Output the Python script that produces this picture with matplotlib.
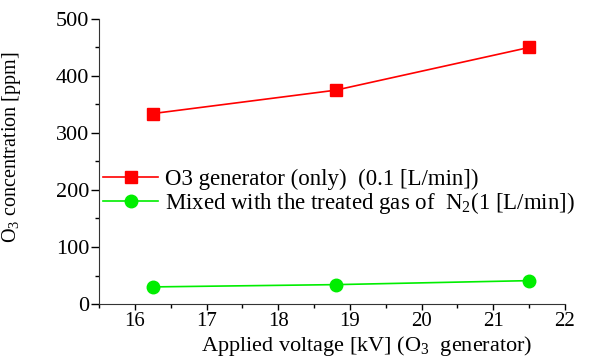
import matplotlib
matplotlib.use('Agg')
import matplotlib.pyplot as plt
from matplotlib.ticker import MultipleLocator

plt.rcParams['font.family'] = 'Liberation Serif'
plt.rcParams['mathtext.fontset'] = 'custom'
plt.rcParams['mathtext.rm'] = 'Liberation Serif'
plt.rcParams['mathtext.it'] = 'Liberation Serif:italic'

# 数据
voltage = [16.25, 18.8, 21.5]
o3_only = [334, 375, 450]
o3_mixed = [30, 34, 41]

fig = plt.figure(figsize=(6.05, 3.64), dpi=100)
ax = fig.add_axes([0.1636, 0.1648, 0.7702, 0.7832])

ax.plot(voltage, o3_only, color='red', marker='s', markersize=8, lw=1.2,
        label='O3 generator (only)  (0.1 [L/min])')
ax.plot(voltage, o3_mixed, color='#00ee00', marker='o', markersize=9, lw=1.2,
        label='Mixed with the treated gas of  N$_2$(1 [L/min])')

ax.set_xlim(15.5, 22)
ax.set_ylim(0, 500)
ax.xaxis.set_major_locator(MultipleLocator(1))
ax.xaxis.set_minor_locator(MultipleLocator(0.5))
ax.yaxis.set_major_locator(MultipleLocator(100))
ax.yaxis.set_minor_locator(MultipleLocator(50))
ax.tick_params(which='major', direction='out', width=1)
ax.tick_params(axis='x', which='major', length=4, pad=1.5, labelsize=15)
ax.tick_params(axis='y', which='major', length=6, pad=1, labelsize=16)
ax.tick_params(which='minor', direction='out', length=3, width=1)

for s in ['top', 'right']:
    ax.spines[s].set_visible(False)
for s in ['left', 'bottom']:
    ax.spines[s].set_color('#333333')

ax.set_xlabel('Applied voltage [kV] (O$_3$  generator)', fontsize=16)
ax.xaxis.set_label_coords(0.575, -0.105)
ax.set_ylabel('O$_3$ concentration [ppm]', fontsize=14.5)
ax.yaxis.set_label_coords(-0.162, 0.549)

ax.legend(loc='center left', bbox_to_anchor=(0.009, 0.39), frameon=False,
          fontsize=16.5, handlelength=2.4, handletextpad=0.3, labelspacing=0.0,
          borderaxespad=0.0, borderpad=0.0)

plt.savefig('out.png')
